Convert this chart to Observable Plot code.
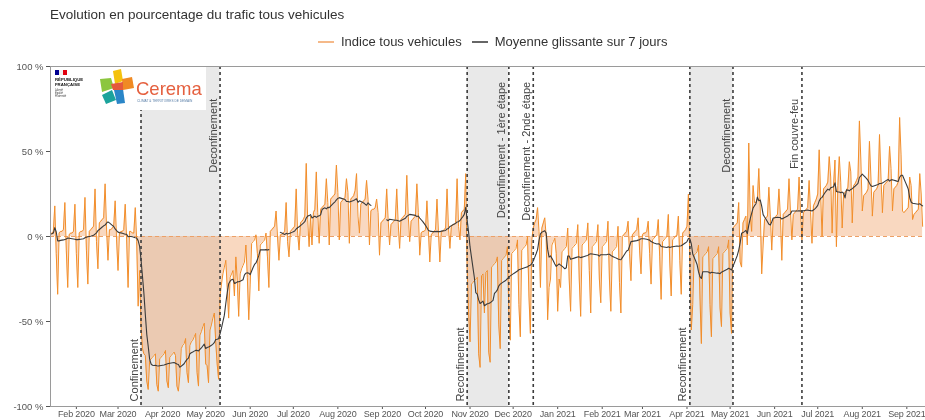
<!DOCTYPE html>
<html>
<head>
<meta charset="utf-8">
<script src="https://cdn.jsdelivr.net/npm/d3@7"></script>
<script src="https://cdn.jsdelivr.net/npm/@observablehq/plot@0.6"></script>
<style>
  body { margin: 0; background: #fff; font-family: "Liberation Sans", Arial, sans-serif; }
  #wrap { position: relative; width: 925px; height: 420px; overflow: hidden; background: #fff; }
  #title { position: absolute; left: 50px; top: 7px; font-size: 13.5px; color: #333; white-space: nowrap; }
  #legend { position: absolute; top: 34px; left: 318px; font-size: 13px; color: #333; display: flex; align-items: center; white-space: nowrap; }
  #legend .key { display: flex; align-items: center; margin-right: 10px; }
  #legend svg { margin-right: 7px; }
  #chart { position: absolute; left: 0; top: 56px; }
  #logo { position: absolute; left: 51px; top: 67px; width: 155px; height: 43px; background: #fff; }
  #chart g[aria-label^="x-axis"] text { font-size: 9px; fill: #555; letter-spacing: -0.15px; }
  #chart g[aria-label^="y-axis"] text { font-size: 9.5px; fill: #555; }
</style>
</head>
<body>
<div id="wrap">
  <div id="title">Evolution en pourcentage du trafic tous vehicules</div>
  <div id="legend">
    <div class="key"><svg width="16" height="10"><line x1="0" y1="5" x2="16" y2="5" stroke="#f2a262" stroke-width="1.5"/></svg>Indice tous vehicules</div>
    <div class="key"><svg width="16" height="10"><line x1="0" y1="5" x2="16" y2="5" stroke="#333" stroke-width="1.5"/></svg>Moyenne glissante sur 7 jours</div>
  </div>
  <div id="chart"></div>
  <div id="logo">
    <svg width="155" height="43" font-family="Liberation Sans, Arial, sans-serif">
      <rect x="4" y="3" width="4" height="5" fill="#000091"/>
      <rect x="8" y="3" width="4" height="5" fill="#f0f0f0"/>
      <rect x="12" y="3" width="4" height="5" fill="#e1000f"/>
      <text x="4" y="14" font-size="4.3" font-weight="bold" fill="#111">RÉPUBLIQUE</text>
      <text x="4" y="19" font-size="4.3" font-weight="bold" fill="#111">FRANÇAISE</text>
      <text x="4" y="24" font-size="2.6" font-style="italic" fill="#333">Liberté</text>
      <text x="4" y="27" font-size="2.6" font-style="italic" fill="#333">Égalité</text>
      <text x="4" y="30" font-size="2.6" font-style="italic" fill="#333">Fraternité</text>
      <polygon points="62,4 70,2 72,14 64,17" fill="#f4c20d"/>
      <polygon points="49,12 60,11 63,21 51,25" fill="#8cc63f"/>
      <polygon points="51,28 61,23 65,33 55,37" fill="#1ba39c"/>
      <polygon points="63,23 72,22 74,36 66,37" fill="#2a86c8"/>
      <polygon points="71,12 81,10 83,21 72,23" fill="#f08a24"/>
      <polygon points="60,17 72,15 72,23 62,23" fill="#e55a3c"/>
      <text x="85" y="28" font-size="18.5" fill="#e5603f">Cerema</text>
      <text x="86" y="35" font-size="3.2" fill="#5a7fa8">CLIMAT &amp; TERRITOIRES DE DEMAIN</text>
    </svg>
  </div>
</div>
<script>
// ---------- data ----------
// Daily traffic index (%), one row per week, Monday .. Sunday, starting Monday 2020-01-13
const startDate = "2020-01-13";
const indice = [
  2,1,2,3,18,-10,-34,
  2,3,3,4,20,-8,-30,
  1,2,2,3,19,-10,-30,
  2,3,3,4,23,-8,-28,
  3,4,5,6,28,-3,-19,
  8,9,10,11,31,5,-14,
  4,4,5,6,21,-2,-20,
  2,3,3,4,19,-2,-30,
  3,3,2,2,17,-3,-41,
  -20,-52,-66,-69,-70,-85,-90,
  -73,-72,-71,-70,-69,-87,-91,
  -72,-71,-70,-69,-67,-85,-89,
  -71,-70,-69,-68,-70,-88,-91,
  -82,-66,-64,-63,-60,-80,-86,
  -64,-62,-61,-59,-57,-80,-88,
  -58,-56,-53,-51,-75,-76,-86,
  -55,-52,-48,-45,-62,-75,-84,
  -35,-28,-22,-18,-14,-30,-48,
  -24,-22,-20,-35,-12,-26,-47,
  -22,-19,-17,-15,-5,-24,-49,
  -28,-4,-3,-2,1,-10,-32,
  -5,-4,-3,-2,2,-12,-30,
  3,4,5,6,15,0,-14,
  1,1,2,3,20,-3,-12,
  3,4,5,6,28,2,-8,
  8,9,10,12,43,10,-6,
  12,-5,14,16,38,14,-4,
  16,17,18,19,34,20,-5,
  22,23,24,25,42,26,-2,
  20,21,22,23,34,26,-4,
  22,23,24,27,37,12,2,
  19,20,21,22,33,22,-5,
  15,16,16,17,22,14,-11,
  8,9,10,11,28,10,-5,
  7,8,9,10,28,8,-7,
  10,11,12,13,36,12,-3,
  9,10,11,12,31,14,-11,
  2,3,3,4,21,4,-15,
  1,2,3,4,22,3,-15,
  3,3,4,5,28,5,-7,
  6,7,7,8,34,6,-2,
  14,15,16,37,-18,-45,-62,
  -28,-27,-26,-25,-24,-69,-77,
  -23,-22,-45,-21,-20,-68,-74,
  -18,-17,-16,-15,-12,-52,-66,
  -14,-13,-12,-11,-6,-45,-61,
  -10,-9,-8,-7,-2,-40,-59,
  -8,-7,-6,-5,0,-35,-57,
  -2,5,8,10,17,3,-30,
  5,8,11,0,-49,-30,-25,
  -5,-3,-1,-10,-44,-25,-30,
  -9,-8,-7,-6,5,-25,-44,
  -7,-6,-5,-4,7,-25,-47,
  -5,-4,-3,-2,8,-20,-45,
  -6,-5,-4,-3,7,-25,-39,
  -6,-5,-4,-3,9,-25,-44,
  -9,-8,-7,-6,6,-27,-45,
  0,1,2,3,9,-10,-26,
  1,2,3,4,11,-8,-22,
  1,2,2,3,9,-10,-28,
  -2,-1,0,1,10,-12,-37,
  -3,-2,-1,0,13,-15,-35,
  -2,-1,0,1,12,-14,-34,
  2,3,4,6,25,-15,-55,
  -40,-11,-10,-9,-5,-35,-63,
  -12,-11,-10,-9,-6,-40,-59,
  -13,-12,-11,-10,-6,-42,-53,
  -10,-9,-8,-7,-2,-45,-57,
  5,6,7,8,20,-15,-18,
  8,10,12,-5,55,12,3,
  30,20,20,22,40,15,-22,
  -5,10,11,12,29,12,-8,
  10,11,12,13,28,12,-14,
  13,14,15,16,34,15,-2,
  13,14,15,16,35,14,-2,
  14,15,16,17,33,14,-4,
  18,20,22,25,51,25,0,
  28,29,30,32,47,35,2,
  30,45,-6,30,47,32,5,
  25,26,27,29,44,38,8,
  30,31,33,35,68,45,15,
  24,25,26,28,56,35,12,
  26,27,28,30,60,35,14,
  30,31,32,33,53,40,15,
  28,29,30,32,70,48,15,
  14,15,16,17,35,30,10,
  13,14,15,16,37,25,6
];

// Periods where the 7-day moving average is missing
const maGapStart = ["2020-06-15", "2020-08-25"];
const maGapEnd   = ["2020-06-21", "2020-09-03"];

// Events (dashed vertical lines)
const eventDates  = ["2020-03-17", "2020-05-11", "2020-10-30", "2020-11-28", "2020-12-15", "2021-04-03", "2021-05-03", "2021-06-20"];
const eventLabels = ["Confinement", "Deconfinement", "Reconfinement", "Deconfinement - 1ère étape", "Deconfinement - 2nde étape", "Reconfinement", "Deconfinement", "Fin couvre-feu"];

// Lockdown periods (grey bands)
const lockStart = ["2020-03-17", "2020-10-30", "2021-04-03"];
const lockEnd   = ["2020-05-11", "2020-11-28", "2021-05-03"];

const yTicks = [-100, -50, 0, 50, 100];
const xStart = "2020-01-14";
const xEnd   = "2021-09-14";

// ---------- build ----------
const parse = d3.utcParse("%Y-%m-%d");
const t0 = parse(startDate);
const gaps = maGapStart.map((s, i) => [parse(s), parse(maGapEnd[i])]);
const data = indice.map((v, i) => ({ date: d3.utcDay.offset(t0, i), v }));
data.forEach((d, i) => {
  const inGap = gaps.some(([a, b]) => d.date >= a && d.date <= b);
  d.ma = inGap ? NaN : d3.mean(indice.slice(Math.max(0, i - 6), i + 1));
});
const events = eventDates.map((s, i) => ({ date: parse(s), label: eventLabels[i] }));
const isBottom = (e) => /^(Confinement|Reconfinement)/.test(e.label);
const topEvents = events.filter(e => !isBottom(e));
const bottomEvents = events.filter(isBottom);
const locks = lockStart.map((s, i) => ({ start: parse(s), end: parse(lockEnd[i]) }));
const [yMin, yMax] = d3.extent(yTicks);

const chart = Plot.plot({
  width: 925,
  height: 364,
  marginLeft: 50,
  marginRight: 0,
  marginTop: 10,
  marginBottom: 14,
  style: { fontFamily: "Liberation Sans, Arial, sans-serif", color: "#555", background: "transparent" },
  x: {
    type: "utc",
    domain: [parse(xStart), parse(xEnd)],
    ticks: d3.utcMonth.every(1),
    tickFormat: d3.utcFormat("%b %Y"),
    tickSize: 3,
    tickPadding: 1,
    label: null
  },
  y: {
    domain: [yMin, yMax],
    ticks: yTicks,
    tickFormat: d => d + " %",
    tickSize: 4,
    tickPadding: 3,
    label: null
  },
  marks: [
    Plot.rect(locks, { x1: "start", x2: "end", fill: "#e9e9e9" }),
    Plot.areaY(data, { x: "date", y1: 0, y2: "v", fill: "#ee9450", fillOpacity: 0.36, clip: true, mixBlendMode: "multiply" }),
    Plot.ruleY([0], { stroke: "#eca067", strokeWidth: 1, strokeDasharray: "4,3" }),
    Plot.lineY(data, { x: "date", y: "v", stroke: "#f28e2b", strokeWidth: 1, clip: true }),
    Plot.lineY(data, { x: "date", y: "ma", stroke: "#3a3a3a", strokeWidth: 1.1, clip: true }),
    Plot.ruleX(events, { x: "date", stroke: "#3c3c3c", strokeWidth: 1.6, strokeDasharray: "3,3" }),
    Plot.text(topEvents, {
      x: "date", y: d => d.label.length > 16 ? 91 : 81, text: "label",
      rotate: -90, textAnchor: "end", dx: -7, fontSize: 11, fill: "#444"
    }),
    Plot.text(bottomEvents, {
      x: "date", y: -97, text: "label",
      rotate: -90, textAnchor: "start", dx: -7, fontSize: 11, fill: "#444"
    }),
    Plot.ruleY([yMin, yMax], { stroke: "#9a9a9a" }),
    Plot.ruleX([parse(xStart)], { stroke: "#9a9a9a" })
  ]
});
document.getElementById("chart").appendChild(chart);
</script>
</body>
</html>
